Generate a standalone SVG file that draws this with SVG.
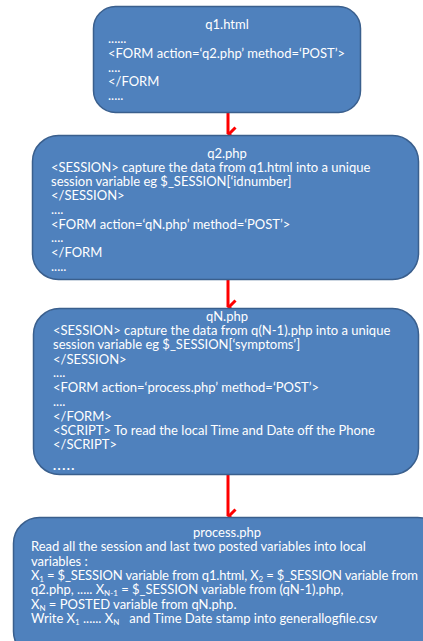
<svg xmlns="http://www.w3.org/2000/svg" width="423" height="641" viewBox="0 0 423 641">
<defs>
<style>
.box{fill:#4F81BD;stroke:#3A5F8D;stroke-width:1.5}
.t{font-family:Lato,"Liberation Sans",sans-serif;font-size:13px;fill:#FFFFFF}
.c{text-anchor:middle}
.sub{font-size:8px}
.conn{stroke:#FF0000;stroke-width:3;fill:none}
</style>
<marker id="ah" viewBox="-8 -9 16 11" refX="0" refY="0" markerWidth="16" markerHeight="11" markerUnits="userSpaceOnUse" orient="auto-start-reverse">
<path d="M-6.5,-7.5 L0,-1 L6.5,-7.5" fill="none" stroke="#FF0000" stroke-width="3"/>
</marker>
</defs>
<rect width="423" height="641" fill="#FFFFFF"/>
<g id="connectors">
<line class="conn" x1="228" y1="113" x2="228" y2="134" marker-end="url(#ah)"/>
<line class="conn" x1="228" y1="280" x2="228" y2="307" marker-end="url(#ah)"/>
<line class="conn" x1="228" y1="475" x2="228" y2="516" marker-end="url(#ah)"/>
</g>
<g id="q1">
<rect class="box" x="93.5" y="6.5" width="267" height="106" rx="22"/>
<text class="t c" x="227" y="29">q1.html</text>
<text class="t" x="108" y="43">......</text>
<text class="t" x="108" y="58">&lt;FORM action=‘q2.php’ method=‘POST’&gt;</text>
<text class="t" x="108" y="72">....</text>
<text class="t" x="108" y="86">&lt;/FORM</text>
<text class="t" x="108" y="100">.....</text>
</g>
<g id="q2">
<rect class="box" x="32.5" y="135.5" width="386" height="144" rx="26"/>
<text class="t c" x="227" y="158">q2.php</text>
<text class="t" x="51" y="172">&lt;SESSION&gt; capture the data from q1.html into a unique</text>
<text class="t" x="51" y="186">session variable eg $_SESSION[‘idnumber]</text>
<text class="t" x="51" y="200">&lt;/SESSION&gt;</text>
<text class="t" x="51" y="213.5">....</text>
<text class="t" x="51" y="229">&lt;FORM action=‘qN.php’ method=‘POST’&gt;</text>
<text class="t" x="51" y="242">....</text>
<text class="t" x="51" y="257">&lt;/FORM</text>
<text class="t" x="51" y="270.5">.....</text>
</g>
<g id="qN">
<rect class="box" x="33.5" y="308.5" width="385" height="166" rx="26"/>
<text class="t c" x="227" y="321">qN.php</text>
<text class="t" x="53" y="335">&lt;SESSION&gt; capture the data from q(N-1).php into a unique</text>
<text class="t" x="53" y="349">session variable eg $_SESSION[‘symptoms’]</text>
<text class="t" x="53" y="363.5">&lt;/SESSION&gt;</text>
<text class="t" x="53" y="377">....</text>
<text class="t" x="53" y="392">&lt;FORM action=‘process.php’ method=‘POST’&gt;</text>
<text class="t" x="53" y="406">....</text>
<text class="t" x="53" y="420.5">&lt;/FORM&gt;</text>
<text class="t" x="53" y="434.5">&lt;SCRIPT&gt; To read the local Time and Date off the Phone</text>
<text class="t" x="53" y="449">&lt;/SCRIPT&gt;</text>
<text class="t" x="53" y="470" font-weight="bold" letter-spacing="1.5">.....</text>
</g>
<g id="process">
<rect class="box" x="13.5" y="517.5" width="430" height="140" rx="26"/>
<text class="t c" x="227" y="537">process.php</text>
<text class="t" x="31" y="551">Read all the session and last two posted variables into local</text>
<text class="t" x="31" y="565.5">variables :</text>
<text class="t" x="31" y="580" textLength="387" lengthAdjust="spacing">X<tspan class="sub" dy="2">1</tspan><tspan dy="-2"> = $_SESSION variable from q1.html, X</tspan><tspan class="sub" dy="2">2</tspan><tspan dy="-2"> = $_SESSION variable from</tspan></text>
<text class="t" x="31" y="594">q2.php, ..... X<tspan class="sub" dy="2">N-1</tspan><tspan dy="-2"> = $_SESSION variable from (qN-1).php,</tspan></text>
<text class="t" x="31" y="608.5">X<tspan class="sub" dy="2">N</tspan><tspan dy="-2"> = POSTED  variable from qN.php.</tspan></text>
<text class="t" x="31" y="623">Write X<tspan class="sub" dy="2">1</tspan><tspan dy="-2"> ...... X</tspan><tspan class="sub" dy="2">N</tspan><tspan dy="-2" xml:space="preserve">   and Time Date stamp into generallogfile.csv</tspan></text>
</g>
</svg>
